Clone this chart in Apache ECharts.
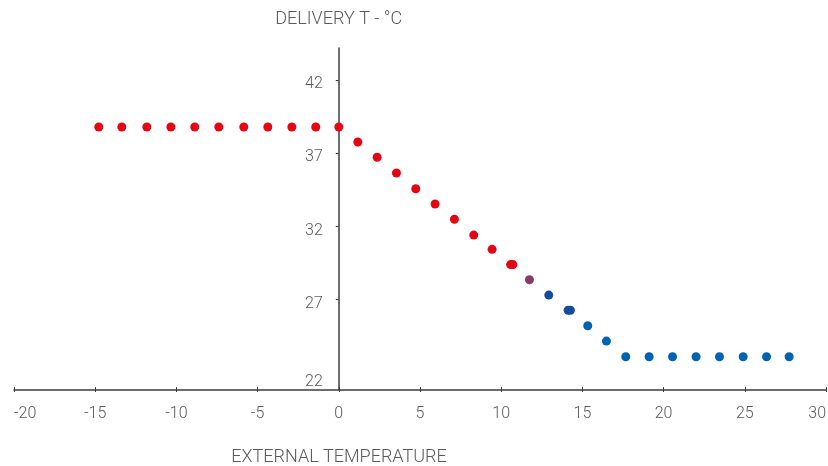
<!DOCTYPE html>
<html>
<head>
<meta charset="utf-8">
<script src="https://cdn.jsdelivr.net/npm/echarts@6/dist/echarts.min.js"></script>
<style>
html,body{margin:0;padding:0;background:#fff;}
#c{width:828px;height:466px;}
</style>
</head>
<body>
<div id="c"></div>
<script>
// ---- data ----
const xTickLabels = [-20, -15, -10, -5, 0, 5, 10, 15, 20, 25, 30];
const yTickLabels = [22, 27, 32, 37, 42];
const xName = 'EXTERNAL TEMPERATURE';
const yName = 'DELIVERY T - °C';

const redX = [-14.78, -13.36, -11.82, -10.34, -8.87, -7.39, -5.85, -4.37, -2.89, -1.42, 0, 1.17, 2.36, 3.55, 4.74, 5.93, 7.12, 8.31, 9.44, 10.58, 10.72];
const redY = [38.78, 38.78, 38.78, 38.78, 38.78, 38.78, 38.78, 38.78, 38.78, 38.78, 38.78, 37.75, 36.71, 35.63, 34.55, 33.51, 32.46, 31.38, 30.40, 29.36, 29.36];
const purpleX = [11.74];
const purpleY = [28.32];
const navyX = [12.93, 14.12, 14.26];
const navyY = [27.27, 26.23, 26.23];
const blueX = [15.33, 16.48, 17.67, 19.11, 20.55, 22.0, 23.44, 24.9, 26.34, 27.73];
const blueY = [25.17, 24.12, 23.05, 23.05, 23.05, 23.05, 23.05, 23.05, 23.05, 23.05];

function pairs(xs, ys) { return xs.map((x, i) => [x, ys[i]]); }

const FONT = 'Roboto';
const LABEL = '#5a5a5a';
const AXIS = '#3c3c3c';

const X_MIN = -20, X_MAX = 30;
const GRID_LEFT = 14, GRID_RIGHT = 2, W = 828;
// distance from grid left edge to x = 0, in pixels
const yAxisShift = (0 - X_MIN) / (X_MAX - X_MIN) * (W - GRID_LEFT - GRID_RIGHT);

const chart = echarts.init(document.getElementById('c'), null, {renderer: 'canvas'});
const mkSeries = (name, xs, ys, color) => ({
  name, type: 'scatter', xAxisIndex: 0, yAxisIndex: 0,
  data: pairs(xs, ys), symbolSize: 9,
  itemStyle: {color: color, opacity: 1},
  emphasis: {disabled: true}, silent: true
});

chart.setOption({
  animation: false,
  backgroundColor: '#fff',
  grid: {left: GRID_LEFT, right: GRID_RIGHT, top: 48, bottom: 76, containLabel: false, outerBoundsMode: 'none'},
  xAxis: [{
    type: 'value', min: X_MIN, max: X_MAX, interval: 5,
    axisLine: {show: true, onZero: false, lineStyle: {color: AXIS, width: 1.5}},
    axisTick: {show: true, inside: true, length: 3, lineStyle: {color: AXIS, width: 1}},
    splitLine: {show: false},
    axisLabel: {
      customValues: xTickLabels, margin: 16, color: LABEL, fontFamily: FONT, fontSize: 16, fontWeight: 300,
      alignMinLabel: 'left', alignMaxLabel: 'right'
    },
    name: xName, nameLocation: 'middle', nameGap: 58,
    nameTextStyle: {color: LABEL, fontFamily: FONT, fontSize: 18, fontWeight: 300, padding: [0, 162, 0, 0]}
  }, {
    type: 'value', min: X_MIN, max: X_MAX, interval: 5, position: 'bottom',
    axisLine: {show: false},
    axisTick: {show: true, inside: false, length: 2, lineStyle: {color: AXIS, width: 1}},
    axisLabel: {show: false}, splitLine: {show: false}
  }],
  yAxis: {
    type: 'value', min: 20.77, max: 44.19, position: 'left', offset: -yAxisShift,
    axisLine: {show: true, onZero: false, lineStyle: {color: AXIS, width: 1.5}},
    axisTick: {show: true, customValues: [27, 32, 37, 42], length: 3, lineStyle: {color: AXIS, width: 1}},
    splitLine: {show: false},
    axisLabel: {
      customValues: yTickLabels, margin: 16, color: LABEL, fontFamily: FONT, fontSize: 16, fontWeight: 300,
      formatter: v => v === 22 ? '{low|22}' : '{n|' + v + '}',
      rich: {
        n: {color: LABEL, fontFamily: FONT, fontSize: 16, fontWeight: 300, padding: [9, 0, 0, 0]},
        low: {color: LABEL, fontFamily: FONT, fontSize: 16, fontWeight: 300, padding: [20, 0, 0, 0]}
      }
    },
    name: yName, nameLocation: 'end', nameGap: 20,
    nameTextStyle: {color: LABEL, fontFamily: FONT, fontSize: 18, fontWeight: 300, align: 'center'}
  },
  series: [
    mkSeries('heating', redX, redY, '#e30613'),
    mkSeries('mix', purpleX, purpleY, '#8a3b63'),
    mkSeries('navy', navyX, navyY, '#144c9e'),
    mkSeries('cooling', blueX, blueY, '#0062b1')
  ]
});
</script>
</body>
</html>
